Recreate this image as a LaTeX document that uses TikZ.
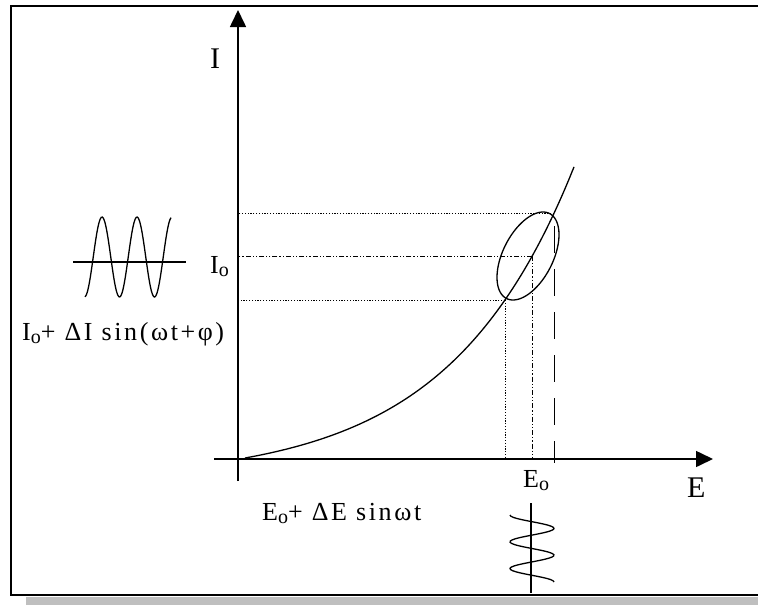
\documentclass[tikz,border=0pt]{standalone}
\usepackage{fontspec}
\setmainfont{Liberation Serif}[LetterSpace=10]
\usetikzlibrary{arrows.meta}
\newcommand\ssubo{\raisebox{-3pt}{\fontsize{20}{20}\selectfont o}}

\begin{document}
\begin{tikzpicture}[
  x=1pt, y=-1pt,
  axis/.style={-{Triangle[length=17pt,width=16pt]}, line width=1.6pt},
  guide/.style={line width=1pt, dash pattern=on 1.2pt off 1.6pt},
  guidemid/.style={line width=1pt, dash pattern=on 5pt off 2pt on 1.2pt off 2pt on 1.2pt off 2pt},
  guidedash/.style={line width=1pt, dash pattern=on 27pt off 16pt, dash phase=30pt},
  wave/.style={line width=1.3pt},
  lbl/.style={inner sep=0pt, anchor=base west, font=\fontsize{26}{30}\selectfont},
  axlbl/.style={inner sep=0pt, anchor=base west, font=\fontsize{30}{34}\selectfont}
]
\useasboundingbox (0,0) rectangle (758,605);
% frame and its shadow
\fill[black!25] (26,597) rectangle (758,605);
\draw[line width=2pt] (758,6) -- (11,6) -- (11,595) -- (758,595);

% axes
\coordinate (origin) at (238,459);
\coordinate (Itop) at (238,10);
\coordinate (Ibot) at (238,481);
\coordinate (Eleft) at (214,459);
\coordinate (Eright) at (713,459);
\draw[axis] (Ibot) -- (Itop);
\draw[axis] (Eleft) -- (Eright);
\node[axlbl] (Ilab) at (210,68) {I};
\node[axlbl] (Elab) at (687,497) {E};

% I-E characteristic
\draw[line width=1.3pt] plot[domain=0:329, samples=80, smooth]
  ({245+\x}, {458-22.6*(exp(0.008*\x)-1)});

% operating point and swing
\coordinate (low) at (505,300);
\coordinate (mid) at (532,256);
\coordinate (high) at (554,213);
\coordinate (hightick) at (554,463);
\draw[guide] (low) -- (low -| origin);
\draw[guide] (low) -- (low |- origin);
\draw[guidemid] (mid) -- (mid -| origin);
\draw[guidemid] (mid) -- (mid |- origin);
\draw[guide] (high) -- (high -| origin);
\draw[guidedash] (high) -- (hightick);
\draw[wave] plot[domain=0:356, samples=90, smooth cycle]
  ({528+31*sin(\x)}, {256-44*sin(\x+61)});
\node[lbl] (I0) at (210,273) {I\ssubo};
\node[lbl] (E0) at (523,487) {E\ssubo};

% applied potential
\coordinate (Ewtop) at (531,503);
\coordinate (Ewbot) at (531,593);
\draw[wave] (Ewtop) -- (Ewbot);
\draw[wave] plot[domain=0:2.5, samples=60, smooth]
  ({532-22*cos(360*\x)}, {515+26.8*\x});
\node[lbl] (Eexc) at (262,520) {E\ssubo+ ΔE sinωt};

% current response
\coordinate (Iwleft) at (73,262);
\coordinate (Iwright) at (186,262);
\draw[wave] (Iwleft) -- (Iwright);
\draw[wave] plot[domain=85:171, samples=80, smooth]
  (\x, {257-40*sin((\x-93.25)*10.2857)});
\node[lbl] (Iresp) at (22,340) {I\ssubo+ ΔI sin(ωt+φ)};
\end{tikzpicture}
\end{document}
